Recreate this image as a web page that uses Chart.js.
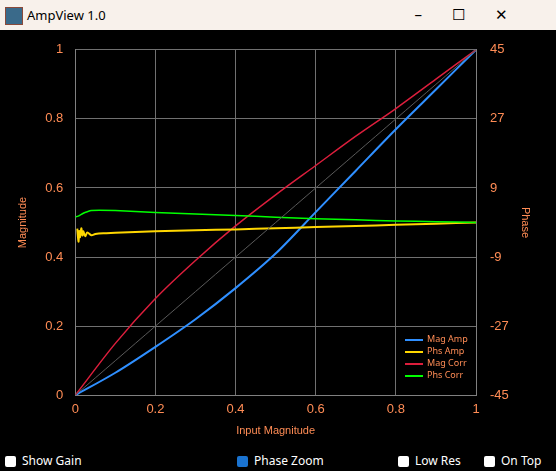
<!DOCTYPE html>
<html lang="en">
<head>
<meta charset="UTF-8">
<script src="https://cdn.jsdelivr.net/npm/chart.js"></script>
<title>AmpView 1.0</title>
<style>
    body { margin: 0; width: 556px; height: 471px; background: #000; font-family: 'Noto Sans', sans-serif; overflow: hidden; position: relative; }
    #titlebar { position: absolute; left: 0; top: 0; width: 556px; height: 30px; background: #f8f1eb; color: #000; font-size: 13px; }
    #titlebar .icon { position: absolute; left: 5px; top: 7px; width: 16px; height: 16px; background: #3a6a8a; border: 1px solid #8a4a3a; }
    #titlebar .name { position: absolute; left: 27px; top: 6px; }
    #titlebar .btns { position: absolute; right: 18px; top: 4px; font-size: 15px; letter-spacing: 30px; }
    #wrap { position: absolute; left: 0; top: 30px; width: 556px; height: 412px; }
    #legend { position: absolute; left: 405px; top: 333px; font-size: 9px; color: #ff8c55; line-height: 12px; }
    #legend span { display: inline-block; width: 18px; height: 2px; margin-right: 4px; vertical-align: middle; }
    .cb { position: absolute; top: 452px; font-size: 12px; color: #fff; }
    .cb i { display: inline-block; width: 11px; height: 11px; border-radius: 2px; background: #fff; vertical-align: -2px; margin-right: 6px; }
    .cb i.on { background: #1a73d0; }
</style>
</head>
<body>
<div id="titlebar"><div class="icon"></div><div class="name">AmpView 1.0</div><div class="btns">–☐✕</div></div>
<div id="wrap"><canvas id="chart" width="556" height="412"></canvas></div>
<div id="legend">
    <div><span style="background:#2f8fff"></span>Mag Amp</div>
    <div><span style="background:#ffd700"></span>Phs Amp</div>
    <div><span style="background:#dc1e3c"></span>Mag Corr</div>
    <div><span style="background:#00ff00"></span>Phs Corr</div>
</div>
<div class="cb" style="left:5px"><i></i>Show Gain</div>
<div class="cb" style="left:237px"><i class="on"></i>Phase Zoom</div>
<div class="cb" style="left:398px"><i></i>Low Res</div>
<div class="cb" style="left:484px"><i></i>On Top</div>
<script>
    const xMag = [0, 0.1, 0.2, 0.3, 0.4, 0.5, 0.6, 0.7, 0.8, 0.9, 1];
    const magAmp = [0, 0.065, 0.14, 0.22, 0.31, 0.41, 0.53, 0.65, 0.77, 0.885, 1];
    const magCorr = [0, 0.15, 0.28, 0.39, 0.49, 0.58, 0.665, 0.75, 0.83, 0.915, 1];
    const linRef = [0, 0.1, 0.2, 0.3, 0.4, 0.5, 0.6, 0.7, 0.8, 0.9, 1];

    const xPhsAmp = [0.005, 0.008, 0.01, 0.012, 0.015, 0.018, 0.02, 0.025, 0.03, 0.04, 0.05, 0.07, 0.1, 0.2, 0.3, 0.4, 0.5, 0.6, 0.7, 0.8, 0.9, 1];
    const phsAmp = [-1.6, -5, -2.2, -3.8, -1.5, -3.4, -2.3, -3.6, -2.6, -3.3, -3.0, -2.8, -2.7, -2.3, -2.0, -1.8, -1.5, -1.2, -0.9, -0.6, -0.3, 0];
    const xPhsCorr = [0, 0.01, 0.02, 0.03, 0.04, 0.06, 0.1, 0.2, 0.3, 0.4, 0.5, 0.6, 0.7, 0.8, 0.9, 1];
    const phsCorr = [1.4, 1.8, 2.4, 2.8, 3.1, 3.2, 3.1, 2.6, 2.2, 1.8, 1.4, 1.0, 0.7, 0.4, 0.2, 0];

    const orange = '#ff8c55';
    const pts = (xs, ys) => xs.map((x, i) => ({x: x, y: ys[i]}));
    const fmt = v => String(Math.round(v * 10) / 10);
    function line(label, xs, ys, color, axis, width) {
        return {label: label, data: pts(xs, ys), borderColor: color, backgroundColor: color,
            borderWidth: width, pointRadius: 0, tension: 0.3, yAxisID: axis};
    }

    new Chart(document.getElementById('chart'), {
        type: 'line',
        data: {
            datasets: [
                line('Ref', xMag, linRef, '#5a5a5a', 'y', 1),
                line('Phs Corr', xPhsCorr, phsCorr, '#00ff00', 'y1', 1.5),
                line('Phs Amp', xPhsAmp, phsAmp, '#ffd700', 'y1', 2),
                line('Mag Corr', xMag, magCorr, '#dc1e3c', 'y', 1.5),
                line('Mag Amp', xMag, magAmp, '#2f8fff', 'y', 2)
            ]
        },
        options: {
            responsive: false, animation: false,
            layout: {padding: {left: 12, right: 20, top: 16, bottom: 2}},
            plugins: {legend: {display: false}, tooltip: {enabled: false}},
            scales: {
                x: {type: 'linear', min: 0, max: 1,
                    ticks: {stepSize: 0.2, color: orange, font: {size: 13}, padding: 6, callback: fmt},
                    grid: {color: '#707070', drawTicks: false}, border: {color: '#808080'},
                    title: {display: true, text: 'Input Magnitude', color: orange, font: {size: 11}, padding: 2}},
                y: {min: 0, max: 1, position: 'left',
                    ticks: {stepSize: 0.2, color: orange, font: {size: 13}, padding: 12, callback: fmt},
                    grid: {color: '#707070', drawTicks: false}, border: {color: '#808080'},
                    title: {display: true, text: 'Magnitude', color: orange, font: {size: 11}}},
                y1: {min: -45, max: 45, position: 'right',
                    ticks: {stepSize: 18, color: orange, font: {size: 13}, padding: 6},
                    grid: {display: false}, border: {color: '#808080'},
                    title: {display: true, text: 'Phase', color: orange, font: {size: 11}}}
            }
        }
    });
</script>
</body>
</html>
